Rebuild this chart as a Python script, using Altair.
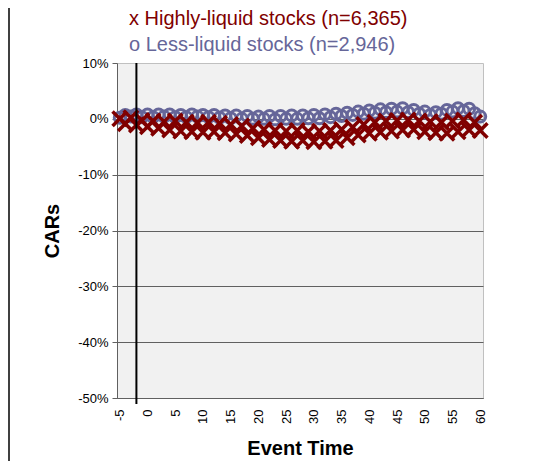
import altair as alt
import pandas as pd

# Event time (days) -5 .. 60
event_time = [-5, -4, -3, -2, -1, 0,
              1, 2, 3, 4, 5, 6, 7, 8, 9, 10,
              11, 12, 13, 14, 15, 16, 17, 18, 19, 20,
              21, 22, 23, 24, 25, 26, 27, 28, 29, 30,
              31, 32, 33, 34, 35, 36, 37, 38, 39, 40,
              41, 42, 43, 44, 45, 46, 47, 48, 49, 50,
              51, 52, 53, 54, 55, 56, 57, 58, 59, 60]

# CARs in percent
highly_liquid = [0.0, -0.9, 0.2, -1.1, -0.3, -1.4,
                 -0.4, -1.7, -0.5, -2.0, -0.4, -2.2, -0.6, -2.3, -0.7, -2.4,
                 -0.6, -2.3, -0.8, -2.5, -1.0, -2.7, -1.3, -3.0, -1.7, -3.4,
                 -1.9, -3.7, -2.1, -3.9, -2.2, -4.0, -2.1, -3.9, -2.3, -4.1,
                 -2.2, -4.0, -2.1, -3.9, -1.9, -3.4, -1.5, -2.9, -1.0, -2.6,
                 -0.6, -2.4, -0.4, -2.2, -0.3, -2.0, -0.2, -1.9, -0.4, -2.3,
                 -0.5, -2.5, -0.6, -2.6, -0.4, -2.3, -0.2, -2.0, -0.6, -2.1]

less_liquid = [0.2, 0.7, 0.4, 0.8, 0.3, 0.8,
               0.3, 0.8, 0.4, 0.8, 0.3, 0.7, 0.3, 0.8, 0.4, 0.7,
               0.3, 0.7, 0.2, 0.6, 0.1, 0.6, 0.0, 0.5, 0.0, 0.4,
               0.0, 0.5, -0.1, 0.5, 0.0, 0.6, 0.0, 0.6, 0.1, 0.7,
               0.1, 0.8, 0.3, 0.9, 0.5, 1.1, 0.7, 1.3, 0.9, 1.5,
               1.1, 1.7, 1.2, 1.8, 1.3, 1.9, 1.2, 1.6, 0.9, 1.3,
               0.7, 1.2, 0.9, 1.6, 1.3, 1.9, 1.4, 1.8, 1.0, 0.4]

x_ticks = [-5, 0, 5, 10, 15, 20, 25, 30, 35, 40, 45, 50, 55, 60]
y_ticks = [0.1, 0.0, -0.1, -0.2, -0.3, -0.4, -0.5]

RED = "#800000"
BLUE = "#666699"
FONT = "Liberation Sans"

df_high = pd.DataFrame({"event": event_time, "car": [v / 100 for v in highly_liquid]})
df_less = pd.DataFrame({"event": event_time, "car": [v / 100 for v in less_liquid]})

x_enc = alt.X(
    "event:Q",
    title="Event Time",
    scale=alt.Scale(domain=[-5.5, 60.5], nice=False, zero=False),
    axis=alt.Axis(values=x_ticks, labelAngle=270, labelExpr="'' + datum.value",
                  labelOverlap=False, grid=False, ticks=False, labelPadding=11,
                  titlePadding=15, domainColor="#606060", labelFontSize=13,
                  labelColor="black", titleFontSize=20, titleFontWeight="bold",
                  titleColor="black"),
)
y_enc = alt.Y(
    "car:Q",
    title="CARs",
    scale=alt.Scale(domain=[-0.5, 0.1], nice=False),
    axis=alt.Axis(values=y_ticks, labelExpr="round(datum.value * 100) + '%'",
                  gridColor={"condition": {"test": "datum.value > 0.05", "value": "transparent"},
                             "value": "#606060"},
                  tickSize=5, tickColor="#606060", domainColor="#606060",
                  labelPadding=4, titlePadding=15, labelFontSize=13, labelColor="black",
                  titleFontSize=20, titleFontWeight="bold", titleColor="black"),
)

less = alt.Chart(df_less).mark_point(
    shape="circle", filled=False, size=120, strokeWidth=3, color=BLUE, opacity=1
).encode(x=x_enc, y=y_enc)

high = alt.Chart(df_high).mark_point(
    shape="M-1,-1L1,1M-1,1L1,-1", filled=False, size=210, strokeWidth=3.5, color=RED, opacity=1
).encode(x=x_enc, y=y_enc)

event_line = alt.Chart(pd.DataFrame({"event": [-2]})).mark_rule(
    color="black", strokeWidth=2
).encode(x=x_enc, y=alt.value(0), y2=alt.value(341))

frame_line = alt.Chart(pd.DataFrame({"v": [0]})).mark_rule(
    color="#404040", strokeWidth=2
).encode(x=alt.value(-108), y=alt.value(-55), y2=alt.value(400))

chart = alt.layer(less, high, event_line, frame_line).properties(
    width=366,
    height=335,
    autosize=alt.AutoSizeParams(type="none"),
    padding={"left": 109, "top": 55, "right": 45, "bottom": 63},
    title=alt.TitleParams(
        text="x Highly-liquid stocks (n=6,365)",
        subtitle="o Less-liquid stocks (n=2,946)",
        anchor="start", dx=121, dy=54, offset=6,
        font=FONT, fontSize=20, fontWeight="normal", color=RED,
        subtitleFont=FONT, subtitleFontSize=20, subtitleColor=BLUE, subtitlePadding=6,
    ),
).configure(
    font=FONT,
).configure_view(
    fill="#f1f1f1", stroke="#c0c0c0", strokeWidth=1,
).configure_axis(
    labelFont=FONT, titleFont=FONT, labelOverlap=False,
)

chart.save("out.html", embed_options={"renderer": "svg", "actions": False})
